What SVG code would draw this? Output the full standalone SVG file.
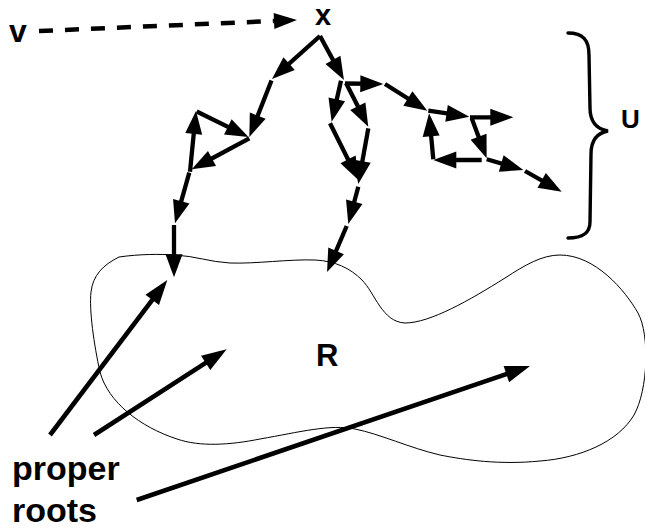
<svg xmlns="http://www.w3.org/2000/svg" width="645" height="529" viewBox="0 0 645 529">
<style>
  .lbl { font-family: "Liberation Sans", Arial, sans-serif; font-weight: bold; fill: #000; }
  .a { stroke: #000; stroke-width: 4.3; fill: none; marker-end: url(#head); }
  .p { stroke: #000; stroke-width: 4.6; fill: none; marker-end: url(#headP); }
  .dash { stroke: #000; stroke-width: 4.5; fill: none; stroke-dasharray: 14 12; marker-end: url(#headD); }
  .thin { stroke: #000; stroke-width: 1; fill: none; }
  .brace { stroke: #000; stroke-width: 3.4; fill: none; stroke-linecap: round; }
</style>
<defs>
  <marker id="head" markerUnits="userSpaceOnUse" markerWidth="23" markerHeight="17" refX="16" refY="8.5" orient="auto" overflow="visible">
    <path d="M0,0 L23,8.5 L0,17 Z" fill="#000"/>
  </marker>
  <marker id="headP" markerUnits="userSpaceOnUse" markerWidth="25" markerHeight="17" refX="18" refY="8.5" orient="auto" overflow="visible">
    <path d="M0,0 L25,8.5 L0,17 Z" fill="#000"/>
  </marker>
  <marker id="headD" markerUnits="userSpaceOnUse" markerWidth="23" markerHeight="16" refX="0" refY="8" orient="auto" overflow="visible">
    <path d="M0,0 L23,8 L0,16 Z" fill="#000"/>
  </marker>
</defs>
<rect width="645" height="529" fill="#fff"/>

<g id="region-R">
  <path class="thin" d="M119,257 C140,254 160,254 175,255 C195,256 210,262 230,263 C255,264 290,259 315,260 C335,261 350,268 362,280 C375,293 382,322 405,323 C430,323 470,300 505,278 C525,265 542,255 560,255 C595,255 625,290 638,313 C650,335 648,390 634,415 C618,442 580,458 540,461 C500,465 465,460 440,455 C410,448 380,434 355,429 C330,424 300,432 260,439 C230,445 200,447 177,439 C140,427 108,402 100,372 C94,345 89,310 91,292 C93,275 103,265 119,257 Z"/>
  <text class="lbl" x="316" y="366" font-size="31">R</text>
</g>

<g id="brace-U">
  <path class="brace" d="M568,33 C583,33 589,40 589,55 L590,108 C590,122 597,129 608,131 C597,133 591,140 591,154 L590,222 C590,233 583,238 568,238"/>
  <text class="lbl" x="621" y="128" font-size="26">U</text>
</g>

<g id="node-v">
  <text class="lbl" x="9" y="42" font-size="32">v</text>
</g>
<g id="node-x">
  <text class="lbl" x="315" y="25" font-size="29">x</text>
</g>
<g id="label-proper-roots">
  <text class="lbl" x="12" y="480" font-size="34">proper</text>
  <text class="lbl" x="12" y="522" font-size="34">roots</text>
</g>

<g id="connectors">
  <line class="dash" x1="39" y1="31" x2="274" y2="21"/>
  <!-- left branch -->
  <line class="a" x1="320" y1="36" x2="277.2" y2="74.3"/>
  <line class="a" x1="271.5" y1="80.5" x2="251.9" y2="130.5"/>
  <line class="a" x1="196.7" y1="111.5" x2="242.2" y2="133.9"/>
  <line class="a" x1="249.3" y1="138.3" x2="197.9" y2="166"/>
  <line class="a" x1="190" y1="171.7" x2="195.3" y2="118"/>
  <line class="a" x1="189.3" y1="172.7" x2="176.9" y2="216.6"/>
  <line class="a" x1="174" y1="225" x2="174" y2="270.3"/>
  <!-- middle branch -->
  <line class="a" x1="320" y1="36" x2="340.6" y2="73.9"/>
  <line class="a" x1="341" y1="80.7" x2="333.2" y2="114.9"/>
  <line class="a" x1="346" y1="83" x2="365.1" y2="120.5"/>
  <line class="a" x1="345" y1="83.5" x2="376.3" y2="83.9"/>
  <line class="a" x1="330" y1="123.3" x2="355.2" y2="173.7"/>
  <line class="a" x1="368.3" y1="128.3" x2="359.5" y2="177.1"/>
  <line class="a" x1="358.3" y1="186.7" x2="350.1" y2="217.2"/>
  <line class="a" x1="346.7" y1="226" x2="329.8" y2="265.6"/>
  <!-- right cluster -->
  <line class="a" x1="385" y1="84" x2="421.4" y2="107"/>
  <line class="a" x1="428.3" y1="110.7" x2="462.4" y2="115.7"/>
  <line class="a" x1="470" y1="117.3" x2="506.3" y2="117.3"/>
  <line class="a" x1="471.7" y1="118.3" x2="484.2" y2="151.7"/>
  <line class="a" x1="481.7" y1="160" x2="440.3" y2="160"/>
  <line class="a" x1="433.3" y1="159.3" x2="429.7" y2="120.3"/>
  <line class="a" x1="486.7" y1="159.3" x2="516.6" y2="168"/>
  <line class="a" x1="525" y1="171" x2="555.6" y2="188.3"/>
  <!-- proper roots pointers -->
  <line class="p" x1="50" y1="435" x2="163.1" y2="285.6"/>
  <line class="p" x1="94" y1="435" x2="220.8" y2="353.1"/>
  <line class="p" x1="136.7" y1="500" x2="523.4" y2="368.3"/>
</g>
</svg>
